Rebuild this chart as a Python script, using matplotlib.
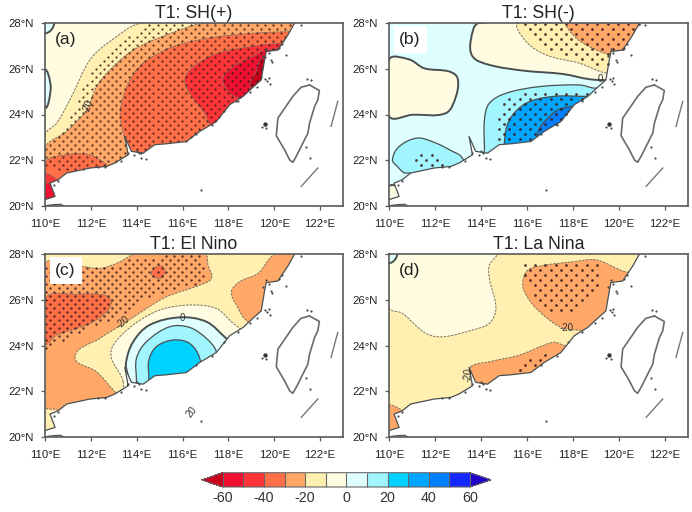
import numpy as np
import matplotlib
matplotlib.use("Agg")
import matplotlib.pyplot as plt
from matplotlib.colors import ListedColormap, BoundaryNorm
from matplotlib.cm import ScalarMappable
from matplotlib.path import Path
from matplotlib.patches import PathPatch

plt.rcParams['font.family'] = ['Liberation Sans', 'DejaVu Sans']

# colour scale
levels = [-60, -50, -40, -30, -20, -10, 0, 10, 20, 30, 40, 50, 60]
colors = ['#F01030', '#FF3438', '#FF7048', '#FFA868', '#FFEFB0', '#FFFCE2',
          '#DFFFFF', '#A0F5FF', '#00D2FF', '#00A5FF', '#0080FF', '#1428FF']
under, over = '#C8001E', '#2000C8'
C = {'m60': under, 'm50': colors[0], 'm40': colors[1], 'm30': colors[2], 'm20': colors[3],
     'm10': colors[4], 'n0': colors[5], 'p0': colors[6], 'p10': colors[7], 'p20': colors[8],
     'p30': colors[9], 'p40': colors[10]}

# geography (lon, lat)
coast = [(120.89,28),(120.6,27.48),(120.16,26.82),(119.65,26.75),(119.58,26.39),(119.43,25.51),
         (119.07,25.19),(118.64,24.79),(118.06,24.43),(117.47,23.69),(116.75,23.26),(116.17,22.82),
         (115.3,22.72),(114.79,22.68),(114.28,22.31),(113.77,22.39),(113.48,23.04),(113.63,22.24),
         (113.05,21.88),(112.69,21.73),(111.96,21.66),(110.94,21.44),(110.58,21.15),(110.22,21.0),
         (110.44,20.42),(110,20.28)]
hainan = [(110.1,20.02),(110.4,20.06),(110.7,20.07),(110.8,20.0)]
taiwan = [(121.54,25.29),(121.97,25.05),(121.9,24.64),(121.76,24.35),(121.54,23.62),(121.47,23.19),(120.96,22.17),(120.81,21.91),
          (120.67,22.02),(120.45,22.46),(120.09,23.07),(120.16,23.84),(120.81,24.79),(121.17,25.19),
          (121.54,25.29)]
stroke1 = [(122.77,24.57),(122.48,23.48)]
stroke2 = [(121.9,21.66),(121.18,20.86)]
dark_islet = ([119.58], [23.6])
islets_lon = [119.45,119.65,116.82,121.55,121.4,121.15,119.7,119.75,119.6,119.8,120.2,120.5,114.2,114.4,113.9,
              119.85,120.35,121.6,121.45,119.25,118.95,118.4,117.8,117.3,116.6,114.1,114.0,113.6,113.3,112.6,112.3,110.55,110.4,
              119.75,119.5,119.65,119.9]
islets_lat = [23.45,23.42,20.68,22.1,22.6,27.92,25.45,25.6,25.55,25.35,26.9,26.6,22.1,22.05,22.25,
              26.4,27.1,25.5,25.55,25.2,25.0,24.6,24.15,23.55,23.15,22.3,22.4,22.3,21.95,21.7,21.72,21.1,20.9,
              26.7,26.55,26.85,26.3]

# panel (a): isolines
a_base = 'n0'
a_m10 = [(110,23.11),(110.51,23.62),(111.16,24.79),(111.96,26.39),(112.83,27.19),(114.28,28),(123,28),(123,20),(110,20)]
a_m20 = [(110,22.53),(110.94,23.26),(111.81,24.2),(112.25,25.22),(112.83,25.95),(113.85,26.82),(115.3,27.48),(117.04,28),(123,28),(123,20),(110,20)]
a_m30 = [(113.8,21.5),(113.63,22.46),(113.34,23.48),(113.29,24.2),(113.63,25.37),(114.28,26.24),(115.59,26.97),(117.33,27.37),(119.07,27.55),(120.67,27.62),(123,27.6),(123,20),(114,20)]
a_m30b = [(110,21.88),(110.94,22.24),(111.96,22.24),(112.69,21.8),(113,21.4),(113,20),(110,20)]
a_m40 = [(117.33,23.48),(116.97,24.06),(116.31,24.93),(116.1,25.51),(116.39,26.02),(117.33,26.6),(118.49,26.89),(120.16,27.11),(123,27.1),(123,23)]
a_m40b = [(110,21.37),(110.44,21.22),(110.65,21),(110.65,20),(110,20)]
a_m50 = [(118.49,24.71),(117.76,25.44),(118.2,26.09),(119.07,26.53),(119.65,26.82),(122,26.8),(122,24.7)]
a_m50b = [(110,20.95),(110.3,20.95),(110.6,20.4),(110.4,20.2),(110,20.2)]
a_m60 = [(119,25.2),(119.22,25.88),(119.5,26.46),(122,26.4),(122,25.2)]
a_p0 = [(110,25.9),(110.25,25.2),(110,24.35)]
a_p0b = [(110,27.55),(110.4,28),(110,28)]
a_sig = [[(110,22.6),(110.65,23.19),(111.31,24.2),(111.74,25.37),(112.32,26.31),(113.05,27.04),(114.43,27.96),(123,28),(123,20),(111,20),(110.9,21.4),(110,21.8)]]

# panel (b)
b_base = 'p0'
b_n0a = [(110,26.39),(110.87,26.41),(111.53,26.02),(112.62,25.88),(112.98,25.59),(112.91,24.79),(112.47,24.06),(111.02,23.99),(110,23.94)]
b_n0b = [(113.93,28),(113.56,27.26),(113.64,26.53),(114.36,26.17),(115.82,25.92),(117.56,25.77),(118.73,25.54),(119.6,25.5),(123,25.5),(123,28)]
b_n0c = [(110,20.86),(110.44,20.79),(110.58,20.28),(110,20.13)]
b_m10 = [(115.64,28),(115.96,27.19),(116.84,26.6),(118.29,26.24),(119.53,25.8),(123,25.8),(123,28)]
b_m20 = [(117.78,28),(118.15,27.33),(119.02,26.82),(119.75,26.6),(123,26.6),(123,28)]
b_p10a = [(110.15,22.02),(110.44,22.6),(111.24,22.97),(112.04,22.75),(112.76,22.39),(113.13,22.17),(113.27,21.73),(110.73,21.44),(110.36,21.73)]
b_p10b = [(114.15,22.53),(114.15,23.77),(114.36,24.49),(115.09,24.93),(116.55,25.22),(118.29,25.29),(118.95,25.15),(123,25),(123,20),(114.2,20)]
b_p30 = [(115.02,22.82),(115.24,23.77),(115.96,24.49),(117.13,24.79),(118.65,24.79),(123,24.8),(123,20),(115,20)]
b_p40 = [(116.47,23.19),(116.84,23.77),(117.56,24.28),(120,24.28),(120,22),(116.5,22)]
b_sig = [[(115.74,28),(116.22,27.4),(117.1,26.82),(118.29,26.38),(119.6,25.88),(123,25.88),(123,28)],
         [(114.58,23.19),(114.65,24.06),(115.09,24.64),(116.25,25),(118.15,25.1),(118.73,24.86),(123,24.8),(123,20),(114.9,20),(114.9,22.7)],
         [(111.09,22.02),(111.45,22.43),(112.04,22.31),(112.47,21.88),(111.75,21.55),(111.38,21.73)]]

# panel (c)
c_base = 'm10'
c_m20a = [(110,27.52),(111.67,27.45),(112.39,27.37),(113.12,27.59),(113.99,28),(116.97,28),(117.11,27.52),(117.26,26.94),(116.75,26.64),(115.3,26.13),(114.43,25.62),(113.56,25.04),(112.39,24.31),(111.31,23.51),(112.25,22.85),(112.98,22.05),(113.27,21.69),(113.3,21),(111,21),(110.5,21.2),(110,21.32)]
c_m20b = [(118.13,26.35),(118.49,26.79),(119.29,27.15),(120.09,28),(123,28),(123,25),(119.5,25),(118.85,25.04),(118.35,25.77)]
c_m30a = [(110,26.06),(111.38,26.24),(112.54,26.21),(112.9,25.92),(112.54,25.33),(111.81,24.9),(110.51,24.46),(110,24.09)]
c_m30b = [(114.64,27.15),(115.01,27.49),(115.25,27.23),(115.01,26.94)]
c_n0 = [(113.41,22.42),(112.9,23.44),(112.98,24.02),(113.85,24.9),(115.01,25.55),(116.31,25.77),(117.47,25.62),(118.13,25.04),(118.64,24.6),(119,24),(119,20),(113.5,20)]
c_p0 = [(113.63,22.56),(113.53,23.22),(113.85,24.17),(114.57,24.9),(115.88,25.23),(117.04,25.04),(117.91,24.31),(118.3,24),(118.3,20),(113.7,20)]
c_p10 = [(113.99,22.49),(113.99,23.44),(114.43,24.17),(115.44,24.82),(116.31,24.79),(117.04,24.31),(117.47,23.73),(117.6,22),(114,20)]
c_p20 = [(114.53,22.64),(114.53,23.36),(114.86,23.95),(115.59,24.24),(116.31,24.09),(116.75,23.44),(116.9,22),(114.6,20)]
c_sig = [[(110,23.7),(110.36,24.06),(111.67,24.65),(113.56,25.47),(114.43,26.05),(115.59,26.41),(117.04,26.85),(117.04,27.45),(116.75,27.95),(113.7,27.9),(113.05,27.54),(112.25,27.47),(110,27.47)]]

# panel (d)
d_base = 'm10'
d_n0 = [(110,25.65),(110.58,25.41),(111.6,24.53),(112.33,24.38),(113.64,24.68),(114.36,24.97),(114.65,25.62),(114.36,26.94),(114.36,27.52),(114.65,28),(110,28)]
d_p0 = [(110,28),(110.36,28),(110,27.6)]
d_m20a = [(115.82,26.79),(116.04,27.3),(116.84,27.52),(118,27.66),(119.02,27.74),(120.25,27.23),(121.5,27),(121.5,24.6),(118.15,24.68),(117.42,24.82),(116.4,25.62),(115.89,26.35)]
d_m20b = [(113.56,23.07),(114.36,23.29),(115.67,23.58),(117.13,24.14),(117.56,24.02),(118,23.8),(118,22),(114.5,21.8),(113.8,22.2),(113.6,22.6)]
d_m20c = [(110,21.37),(110.29,21.32),(110.58,21.1),(110.65,20.2),(110,20.2)]
d_sig = [[(115.89,27.66),(119.16,27.74),(119.16,26.64),(118,25.48),(117.13,25.33),(116.4,25.99),(115.89,26.94)],
         [(115.45,23.05),(115.8,23.3),(117,23.8),(117.2,23.7),(116.5,23.2),(115.7,22.8)]]

panels = [
 dict(title='T1: SH(+)', tag='(a)', box=(45,23,343,206), base=a_base, sig=a_sig, boxed=False, step=(0.36,0.175), dot=2.6,
      fills=[('m10',a_m10),('m20',a_m20),('m30',a_m30),('m30',a_m30b),('m40',a_m40),('m40',a_m40b),
             ('m50',a_m50),('m50',a_m50b),('m60',a_m60),('p0',a_p0),('p0',a_p0b)],
      labels=[('-20',111.9,24.35,70)]),
 dict(title='T1: SH(-)', tag='(b)', box=(389,23,688,206), base=b_base, sig=b_sig, boxed=True, step=(0.45,0.22), dot=4,
      fills=[('n0',b_n0a),('n0',b_n0b),('n0',b_n0c),('m10',b_m10),('m20',b_m20),('p10',b_p10a),('p10',b_p10b),
             ('p30',b_p30),('p40',b_p40)],
      labels=[('0',119.2,25.55,0)]),
 dict(title='T1: El Nino', tag='(c)', box=(45,254,343,437), base=c_base, sig=c_sig, boxed=True, step=(0.36,0.175), dot=3,
      fills=[('m20',c_m20a),('m20',c_m20b),('m30',c_m30a),('m30',c_m30b),('n0',c_n0),('p0',c_p0),('p10',c_p10),('p20',c_p20)],
      labels=[('-20',113.4,25.02,40),('0',116,25.2,0),('20',116.4,21.1,50)]),
 dict(title='T1: La Nina', tag='(d)', box=(389,254,688,437), base=d_base, sig=d_sig, boxed=False, step=(0.45,0.22), dot=4,
      fills=[('n0',d_n0),('p0',d_p0),('m20',d_m20a),('m20',d_m20b),('m20',d_m20c)],
      labels=[('-20',117.7,24.75,0),('-20',113.45,22.7,85)]),
]

W, H = 692, 512
fig = plt.figure(figsize=(W/100, H/100), dpi=100)

lon_ticks = [110, 112, 114, 116, 118, 120, 122]
lat_ticks = [20, 22, 24, 26, 28]
sea = coast + [(110,20),(123,20),(123,28)]
sea_path = Path(np.array(sea + [sea[0]]))
edge = '#5a5a5a'


def smooth_path(poly):
    """Closed Bezier path through the read contour vertices."""
    P = np.array(poly, float)
    n = len(P)
    verts = [P[0]]
    codes = [Path.MOVETO]
    for i in range(n):
        p0, p1, p2, p3 = P[i-1], P[i], P[(i+1) % n], P[(i+2) % n]
        seg = np.linalg.norm(p2 - p1)
        t1 = (p2 - p0); t2 = (p3 - p1)
        t1 = t1 / max(np.linalg.norm(t1), 1e-6) * seg / 3
        t2 = t2 / max(np.linalg.norm(t2), 1e-6) * seg / 3
        verts += [p1 + t1, p2 - t2, p2]
        codes += [Path.CURVE4] * 3
    return Path(np.array(verts), codes)


def lattice(dx, dy):
    pts = []
    for i, y in enumerate(np.arange(20.05, 28, dy)):
        off = 0 if i % 2 == 0 else dx / 2
        for x in np.arange(110.05 + off, 123, dx):
            pts.append((x, y))
    return np.array(pts)


for p in panels:
    x0, y0, x1, y1 = p['box']
    ax = fig.add_axes([x0/W, 1-y1/H, (x1-x0)/W, (y1-y0)/H])
    ax.set_xlim(110, 123); ax.set_ylim(20, 28)
    ax.set_facecolor(C[p['base']])
    for name, poly in p['fills']:
        neg = name.startswith('m') or name == 'n0'
        zero = name == 'p0' or (name == 'n0' and p['tag'] == '(b)')
        ax.add_patch(PathPatch(smooth_path(poly), facecolor=C[name],
                               edgecolor='#4a5050' if (not neg or zero) else '#777060',
                               lw=1.4 if zero else (0.9 if not neg else 0.7),
                               ls='-' if (not neg or zero) else (0, (2.5, 1.2)), zorder=2))
    s = np.array(sea)
    ax.fill(s[:,0], s[:,1], facecolor='white', edgecolor='none', zorder=3)
    L = lattice(*p['step'])
    keep = np.zeros(len(L), bool)
    for poly in p['sig']:
        keep |= Path(np.array(poly + [poly[0]])).contains_points(L)
    keep &= ~sea_path.contains_points(L)
    ax.scatter(L[keep,0], L[keep,1], s=p['dot'], c='#3a1a18', alpha=0.85, linewidths=0, zorder=4)
    c = np.array(coast)
    ax.plot(c[:,0], c[:,1], color='#4a5050', lw=0.9, zorder=5)
    h = np.array(hainan); ax.plot(h[:,0], h[:,1], color='#555555', lw=1, zorder=5)
    t = np.array(taiwan); ax.plot(t[:,0], t[:,1], color='#6a6a6a', lw=1.2, zorder=5)
    for st in (stroke1, stroke2):
        q = np.array(st); ax.plot(q[:,0], q[:,1], color='#777777', lw=1.0, zorder=5)
    ax.scatter(*dark_islet, s=10, c='#333333', linewidths=0, zorder=5)
    ax.scatter(islets_lon, islets_lat, s=2.5, c='#444a4a', linewidths=0, zorder=5)
    for txt, lx, ly, rot in p['labels']:
        ax.text(lx, ly, txt, fontsize=7, rotation=rot, ha='center', va='center', color='#333333', zorder=6)
    ax.set_xticks(lon_ticks)
    ax.set_xticklabels([f'{v}°E' for v in lon_ticks], fontsize=8.2, color='#222222')
    ax.set_yticks(lat_ticks)
    ax.set_yticklabels([f'{v}°N' for v in lat_ticks], fontsize=8.2, color='#222222')
    ax.tick_params(length=3, width=0.9, color=edge)
    ax.tick_params(axis='x', pad=6.5)
    ax.tick_params(axis='y', pad=5)
    for sp in ax.spines.values():
        sp.set_color(edge); sp.set_linewidth(1.2); sp.set_zorder(7)
    ax.text(110.45, 27.28, p['tag'], fontsize=12.6, ha='left', va='center', color='#222222', zorder=8,
            bbox=dict(facecolor='white', edgecolor='none', pad=4) if p['boxed'] else None)
    ax.set_title(p['title'], fontsize=12.7, pad=3.5, color='#222222')

cmap = ListedColormap(colors).with_extremes(under=under, over=over)
norm = BoundaryNorm(levels, cmap.N)
cax = fig.add_axes([201.7/W, 1-487/H, 289.3/W, 14.3/H])
cb = fig.colorbar(ScalarMappable(norm=norm, cmap=cmap), cax=cax, orientation='horizontal',
                  extend='both', extendfrac=0.085, spacing='uniform', ticks=levels[::2], drawedges=True)
cb.ax.minorticks_off()
cb.ax.set_xticks(levels[::2])
cb.ax.set_xticklabels([str(v) for v in levels[::2]], fontsize=10.3, color='#333333')
cb.ax.tick_params(which='both', length=0, pad=3)
cb.dividers.set_color('#666666'); cb.dividers.set_linewidth(0.8)
cb.outline.set_edgecolor('#666666'); cb.outline.set_linewidth(0.8)

fig.savefig('out.png', dpi=100)
